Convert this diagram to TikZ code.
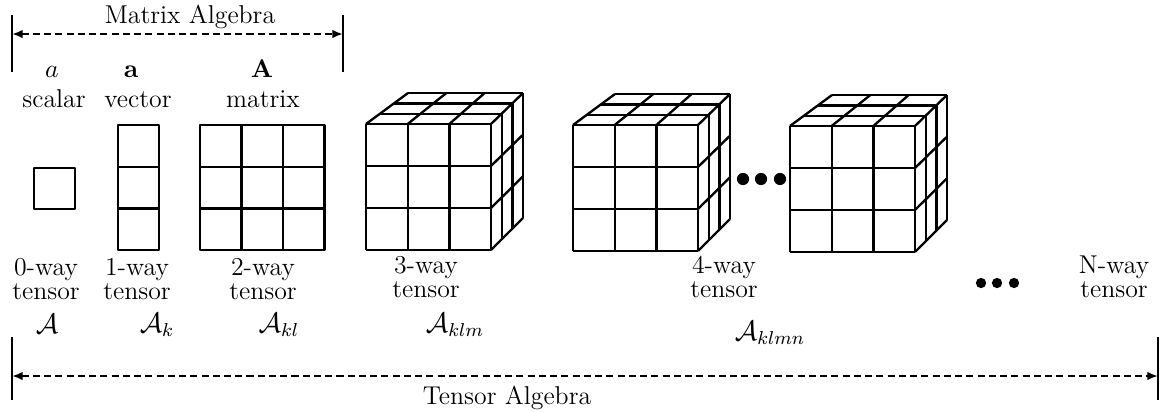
\documentclass[tikz,border=0pt]{standalone}
\usepackage{amsmath}
\usepackage{tikz}
\usetikzlibrary{arrows.meta,calc}

\tikzset{
  cell/.style={line width=1pt, line join=round},
  bracketbar/.style={line width=0.9pt},
  spanarrow/.style={line width=0.85pt, dash pattern=on 3pt off 1.8pt,
    {Latex[length=4.5pt,width=3.6pt]}-{Latex[length=4.5pt,width=3.6pt]}},
  txt/.style={font=\fontsize{11}{8.6}\selectfont, align=center, inner sep=0pt},
  mathtxt/.style={font=\fontsize{12}{14}\selectfont, inner sep=0pt},
  edot/.style={circle, fill=black, inner sep=0pt, minimum size=#1},
}

% cube of 3x3x3 cells, front top-left corner at (#1,#2)
\newcommand{\tensorcube}[2]{%
  \coordinate (F1) at (#1,#2);
  \coordinate (F2) at ({#1+125},#2);
  \coordinate (F3) at ({#1+125},{#2+126});
  \coordinate (F4) at (#1,{#2+126});
  \coordinate (B1) at ({#1+42},{#2-31});
  \coordinate (B2) at ({#1+157},{#2-31});
  \coordinate (B3) at ({#1+157},{#2+94});
  \foreach \t in {0,1,2,3} {
    \draw[cell] ($(F1)!\t/3!(F2)$) -- ($(F4)!\t/3!(F3)$);
    \draw[cell] ($(F1)!\t/3!(F4)$) -- ($(F2)!\t/3!(F3)$);
    \draw[cell] ($(F1)!\t/3!(F2)$) -- ($(B1)!\t/3!(B2)$);
  }
  \foreach \t in {1,2,3} {
    \draw[cell] ($(F1)!\t/3!(B1)$) -- ($(F2)!\t/3!(B2)$);
    \draw[cell] ($(F2)!\t/3!(B2)$) -- ($(F3)!\t/3!(B3)$);
    \draw[cell] ($(F2)!\t/3!(F3)$) -- ($(B2)!\t/3!(B3)$);
  }%
}

\begin{document}
\begin{tikzpicture}[x=0.015cm, y=-0.015cm]
  \useasboundingbox (0,0) rectangle (1161,411);

  % matrix algebra span
  \coordinate (mtl) at (12,15);  \coordinate (mbl) at (12,72);
  \coordinate (mtr) at (343,15); \coordinate (mbr) at (343,72);
  \coordinate (ml) at (12,34);   \coordinate (mr) at (343,34);
  \draw[bracketbar] (mtl) -- (mbl);
  \draw[bracketbar] (mtr) -- (mbr);
  \draw[spanarrow] (ml) -- (mr);
  \node[txt] (malg) at (190,17) {Matrix Algebra};

  % symbols and names
  \node[txt, anchor=base] (sa) at (52,77) {$a$};
  \node[txt, anchor=base] (sv) at (131,77) {$\mathbf{a}$};
  \node[txt, anchor=base] (sm) at (262,77) {$\mathbf{A}$};
  \node[txt, anchor=base] (nscalar) at (54,107) {scalar};
  \node[txt, anchor=base] (nvector) at (138,107) {vector};
  \node[txt, anchor=base] (nmatrix) at (263,107) {matrix};

  % scalar, vector, matrix
  \draw[cell] (34,168) rectangle (75,209);
  \foreach \j in {0,1,2}
    \draw[cell] (118,{125+\j*41.67}) rectangle ++(41,41.67);
  \foreach \i in {0,1,2}
    \foreach \j in {0,1,2}
      \draw[cell] ({200+\i*41.5},{125+\j*41.67}) rectangle ++(41.5,41.67);

  % cubes
  \tensorcube{366}{124}
  \tensorcube{573}{125}
  \tensorcube{790}{126}

  \node[edot=5.2pt] (d1) at (743,179) {};
  \node[edot=5.2pt] (d2) at (761,179) {};
  \node[edot=5.2pt] (d3) at (780,179) {};

  % orders
  \node[txt] (w0) at (46,279) {0-way\\tensor};
  \node[txt] (w1) at (137,279) {1-way\\tensor};
  \node[txt] (w2) at (263,279) {2-way\\tensor};
  \node[txt] (w3) at (426,277) {3-way\\tensor};
  \node[txt] (w4) at (724,277) {4-way\\tensor};
  \node[txt] (wn) at (1114,277) {N-way\\tensor};
  \node[edot=4.4pt] (e1) at (981,283) {};
  \node[edot=4.4pt] (e2) at (997,283) {};
  \node[edot=4.4pt] (e3) at (1014,283) {};

  \node[mathtxt] (t0) at (47,324) {$\mathcal{A}$};
  \node[mathtxt] (t1) at (157,325) {$\mathcal{A}_k$};
  \node[mathtxt] (t2) at (279,325) {$\mathcal{A}_{kl}$};
  \node[mathtxt] (t3) at (455,325) {$\mathcal{A}_{klm}$};
  \node[mathtxt] (t4) at (770,333) {$\mathcal{A}_{klmn}$};

  % tensor algebra span
  \coordinate (ttl) at (12,337);   \coordinate (tbl) at (12,400);
  \coordinate (ttr) at (1158,337); \coordinate (tbr) at (1158,400);
  \coordinate (tl) at (12,376);    \coordinate (tr) at (1158,376);
  \draw[bracketbar] (ttl) -- (tbl);
  \draw[bracketbar] (ttr) -- (tbr);
  \draw[spanarrow] (tl) -- (tr);
  \node[txt] (talg) at (507,398) {Tensor Algebra};
\end{tikzpicture}
\end{document}
